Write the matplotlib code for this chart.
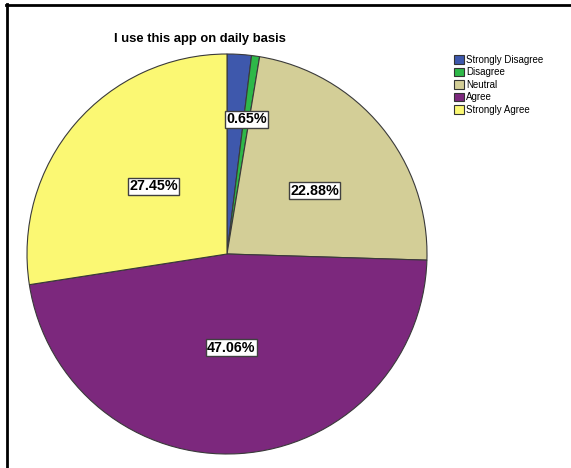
import numpy as np
import matplotlib
matplotlib.use("Agg")
import matplotlib.pyplot as plt
from matplotlib.lines import Line2D
from matplotlib.patches import Patch

# Survey responses
categories = ["Strongly Disagree", "Disagree", "Neutral", "Agree", "Strongly Agree"]
percentages = [1.96, 0.65, 22.88, 47.06, 27.45]
shown_labels = [False, True, True, True, True]
title = "I use this app on daily basis"

colors = ["#3E58AC", "#2EB848", "#D3CE97", "#7C287D", "#FBF873"]
label_radius = [0.68, 0.68, 0.54, 0.47, 0.50]
label_shift = [0.0, 0.0, 3.5, 0.8, 2.0]   # degrees, clockwise nudge of the label

W, H = 571, 468
fig = plt.figure(figsize=(W / 100, H / 100), dpi=100)
ax = fig.add_axes([0, 0, 1, 1])

cx, cy, R = 227, H - 254, 200
wedges, _ = ax.pie(percentages, colors=colors, startangle=90, counterclock=False,
                   center=(cx, cy), radius=R, frame=True,
                   wedgeprops=dict(edgecolor="#3a3a3a", linewidth=0.8))
ax.set_xlim(0, W)
ax.set_ylim(0, H)
ax.set_aspect("auto")
ax.axis("off")

for w, val, show, rf, sh in zip(wedges, percentages, shown_labels, label_radius, label_shift):
    if not show:
        continue
    ang = np.deg2rad((w.theta1 + w.theta2) / 2 - sh)
    x = cx + rf * R * np.cos(ang)
    y = cy + rf * R * np.sin(ang)
    ax.text(x, y, f"{val:.2f}%", ha="center", va="center", fontsize=10.3,
            family="Liberation Sans", fontweight="bold", color="black",
            bbox=dict(boxstyle="square,pad=0.1", facecolor="white",
                      edgecolor="#404040", linewidth=1.0))

fig.text(200 / W, 1 - 39 / H, title, ha="center", va="center", fontsize=9.4,
         fontweight="bold", family="Liberation Sans")

handles = [Patch(facecolor=c, edgecolor="#333333", linewidth=0.8) for c in colors]
fig.legend(handles, categories, loc="upper left",
           bbox_to_anchor=(454 / W, 1 - 55 / H), frameon=False,
           prop=dict(family="Liberation Sans", size=7),
           handlelength=1.0, handleheight=1.0, handletextpad=0.25,
           labelspacing=0.25, borderpad=0, borderaxespad=0)

# Page frame along the top and left
fig.add_artist(Line2D([6 / W, 1], [1 - 5 / H, 1 - 5 / H], color="black", linewidth=2.0,
                      transform=fig.transFigure))
fig.add_artist(Line2D([7 / W, 7 / W], [1 - 4 / H, 0], color="black", linewidth=2.0,
                      transform=fig.transFigure))

fig.savefig("out.png", dpi=100)
